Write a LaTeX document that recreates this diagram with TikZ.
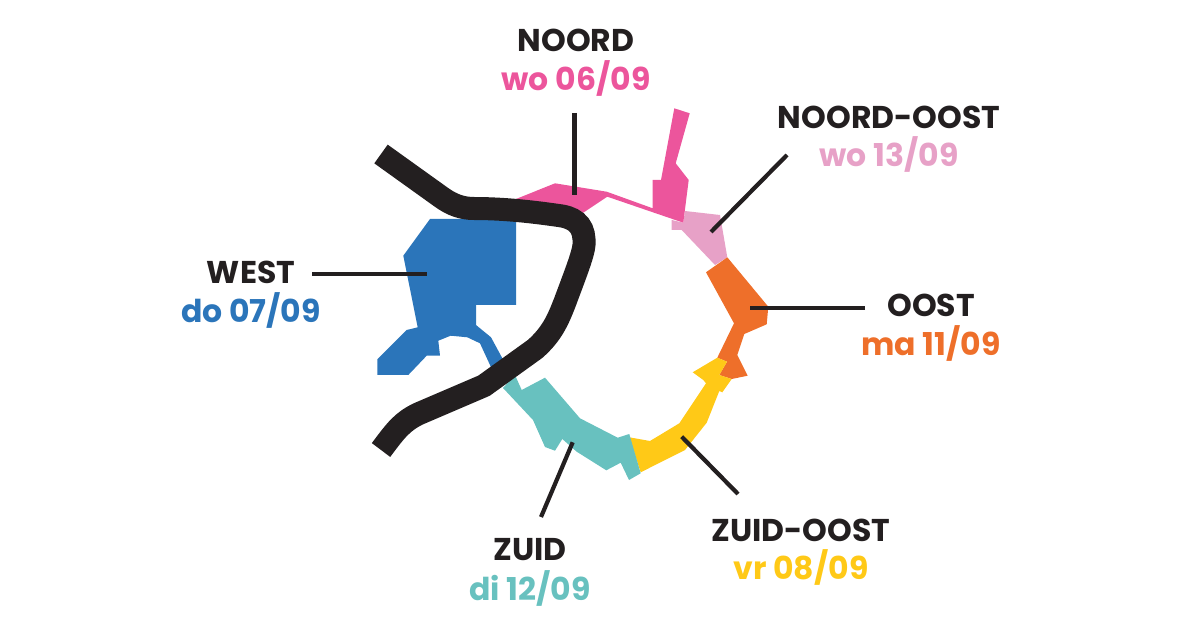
\documentclass[tikz,border=0pt]{standalone}
\usepackage{fontspec}
\setmainfont{Poppins}[BoldFont=Poppins Bold]
\definecolor{noordpink}{HTML}{EC559C}
\definecolor{ooNpink}{HTML}{E7A1C7}
\definecolor{oostorange}{HTML}{EE6F2A}
\definecolor{zoyellow}{HTML}{FFC917}
\definecolor{zuidteal}{HTML}{68C1BF}
\definecolor{westblue}{HTML}{2B75BA}
\definecolor{riverblack}{HTML}{231F20}
\tikzset{
	x=1pt,
	y=-1pt,
	region/.style={draw=none},
	river/.style={line width=23pt, draw=riverblack},
	leader/.style={line width=4.2pt, draw=riverblack},
	area/.style={font=\fontsize{31.5}{31.5}\selectfont\bfseries, text=riverblack, inner sep=0pt},
	date/.style={font=\fontsize{31.5}{31.5}\selectfont\bfseries, inner sep=0pt},
}
\begin{document}
\begin{tikzpicture}
	\useasboundingbox (0,0) rectangle (1200,628);

	% districts
	\fill[region, ooNpink] (685,211) -- (720,215) -- (727.3,257.3) -- (715,265) -- (681.7,230) -- (671.7,230) -- (671.7,220) -- (683.3,222.7) -- cycle;
	\fill[region, noordpink] (516,199) -- (555,183.3) -- (606.7,191.7) -- (652.7,208.3) -- (652.7,180) -- (661,180) -- (674.3,108.3) -- (689.7,113.3) -- (675.7,163.3) -- (688.7,180) -- (683.3,222.7) -- (607.3,196.7) -- (583.3,212.7) -- (540,215) -- cycle;
	\fill[region, oostorange] (706,272.3) -- (727.3,257.3) -- (768.3,306.7) -- (766.7,324.3) -- (744.3,334) -- (737.3,355) -- (747.7,375.7) -- (731.7,379) -- (719.3,375) -- (727,361.7) -- (717.3,357.7) -- (734,323.3) -- cycle;
	\fill[region, zoyellow] (717.3,357.7) -- (727,361.7) -- (719.3,375) -- (731.7,379) -- (722.3,392.3) -- (719.3,391) -- (706.7,422.7) -- (685,450) -- (640.7,472.3) -- (629.3,437.3) -- (650,441) -- (679.3,423.3) -- (706,383.3) -- (703.3,380) -- (692.7,372.3) -- cycle;
	\fill[region, zuidteal] (503,388) -- (515,375) -- (521.7,390) -- (545,377.7) -- (580,418.3) -- (617.7,437.7) -- (629.3,434) -- (640.7,473.3) -- (629,480) -- (620.7,462.7) -- (606.3,470.3) -- (576.7,451.7) -- (562.3,439) -- (555,450.7) -- (545,447) -- (533,420) -- cycle;
	\fill[region, westblue] (430,219) -- (516,219) -- (516,305) -- (476,305) -- (476,325) -- (491,337.3) -- (506,365) -- (492.3,370) -- (480,343.3) -- (467.3,337.3) -- (450.7,335.7) -- (438.3,340.7) -- (440,355.7) -- (426.7,355.7) -- (408.3,375) -- (377.3,375) -- (377.3,359.3) -- (406.7,330) -- (417.7,327.3) -- (403.3,255.7) -- cycle;

	% river
	\draw[river] (381,154) -- (441,197) .. controls (452,205) and (462,208.5) .. (474,208.5) .. controls (505,208.5) and (535,212) .. (562,216) .. controls (578,219) and (585,228) .. (584,245) .. controls (583,255) and (575,275) .. (565,302) .. controls (558,320) and (552,334) .. (535,349) -- (484,385.7) -- (418,414) .. controls (402,422) and (396,430) .. (381,450);

	% leader end points
	\coordinate (noordA) at (574.5,113);
	\coordinate (noordB) at (574.5,195);
	\coordinate (noordoostA) at (787,155);
	\coordinate (noordoostB) at (711,232);
	\coordinate (oostA) at (865,308);
	\coordinate (oostB) at (750,308);
	\coordinate (zuidoostA) at (738,494);
	\coordinate (zuidoostB) at (681.7,436.7);
	\coordinate (zuidA) at (541,517);
	\coordinate (zuidB) at (572.7,442.3);
	\coordinate (westA) at (312,274);
	\coordinate (westB) at (427,274);

	\draw[leader] (noordA) -- (noordB);
	\draw[leader] (noordoostA) -- (noordoostB);
	\draw[leader] (oostA) -- (oostB);
	\draw[leader] (zuidoostA) -- (zuidoostB);
	\draw[leader] (zuidA) -- (zuidB);
	\draw[leader] (westA) -- (westB);

	% labels
	\node[area] (noord) at (576,40) {NOORD};
	\node[date, text=noordpink] (noorddate) at (576,78) {wo 06/09};
	\node[area] (noordoost) at (889,117) {NOORD-OOST};
	\node[date, text=ooNpink] (noordoostdate) at (889,154) {wo 13/09};
	\node[area] (oost) at (931,305) {OOST};
	\node[date, text=oostorange] (oostdate) at (931,343) {ma 11/09};
	\node[area] (zuidoost) at (801,530) {ZUID-OOST};
	\node[date, text=zoyellow] (zuidoostdate) at (801,567) {vr 08/09};
	\node[area] (zuid) at (530,550) {ZUID};
	\node[date, text=zuidteal] (zuiddate) at (530,588) {di 12/09};
	\node[area] (west) at (251,272) {WEST};
	\node[date, text=westblue] (westdate) at (251,310) {do 07/09};
\end{tikzpicture}
\end{document}
